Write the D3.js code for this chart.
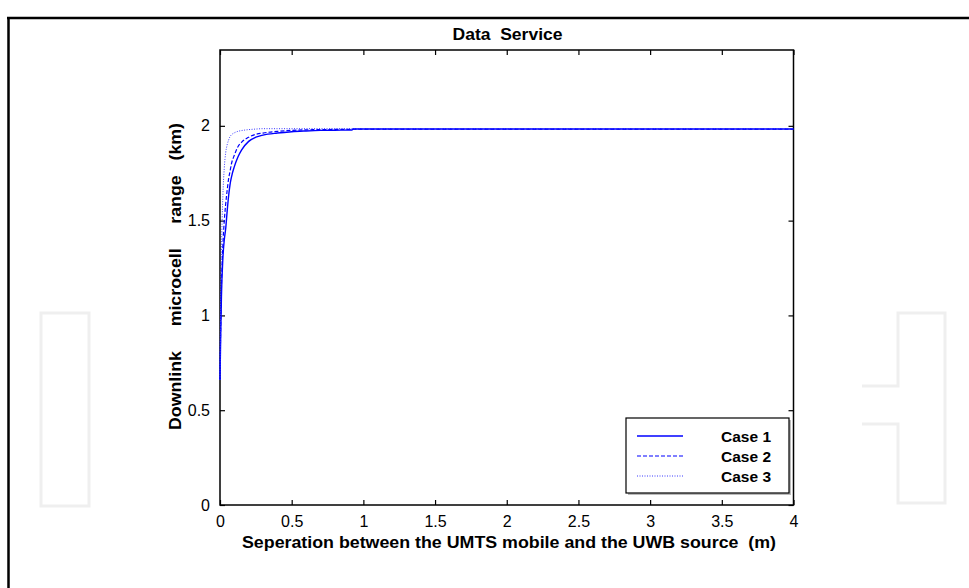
<!DOCTYPE html>
<html lang="en">
<head>
    <meta charset="UTF-8">
    <title>Data Service</title>
    <script src="https://cdn.jsdelivr.net/npm/d3@7"></script>
    <style>
        body { margin:0; background:#fff; }
        text { font-family: "Liberation Sans", Arial, sans-serif; }
    </style>
</head>
<body>
<div id="grafica"></div>
<script>
// data
sep = [0, 0.005, 0.01, 0.02, 0.03, 0.04, 0.05, 0.06, 0.07, 0.08, 0.1, 0.125, 0.15, 0.2, 0.25, 0.3, 0.4, 0.5, 0.6, 0.7, 0.8, 0.92, 0.93, 1, 2, 3, 4]
case1 = [0.66, 0.9, 1.1, 1.3, 1.4, 1.46, 1.55, 1.63, 1.69, 1.73, 1.785, 1.836, 1.872, 1.918, 1.94, 1.951, 1.962, 1.969, 1.973, 1.976, 1.977, 1.978, 1.983, 1.983, 1.983, 1.983, 1.983]
case2 = [0.66, 0.95, 1.15, 1.37, 1.5, 1.59, 1.66, 1.72, 1.76, 1.8, 1.845, 1.89, 1.913, 1.94, 1.955, 1.962, 1.971, 1.976, 1.979, 1.98, 1.981, 1.982, 1.983, 1.983, 1.983, 1.983, 1.983]
case3 = [0.66, 1.15, 1.35, 1.63, 1.78, 1.86, 1.9, 1.925, 1.943, 1.953, 1.963, 1.971, 1.975, 1.98, 1.983, 1.985, 1.985, 1.985, 1.985, 1.985, 1.985, 1.985, 1.985, 1.985, 1.985, 1.985, 1.985]
seriesNames = ['Case 1', 'Case 2', 'Case 3']
xTicks = [0, 0.5, 1, 1.5, 2, 2.5, 3, 3.5, 4]
yTicks = [0, 0.5, 1, 1.5, 2]

ancho_total = 969
alto_total = 588
margin = {top:50, right:175.5, bottom:83, left:220}
ancho = ancho_total - margin.left - margin.right
alto = alto_total - margin.top - margin.bottom

svg = d3.select('#grafica')
        .append('svg')
        .attr('width', ancho_total)
        .attr('height', alto_total)

// page frame + faint background shapes
svg.append('path')
    .attr('d', 'M7,18H969M8.5,18V588')
    .attr('fill', 'none')
    .attr('stroke', '#000')
    .attr('stroke-width', 2.5)
svg.append('rect')
    .attr('x', 41).attr('y', 313).attr('width', 48).attr('height', 193)
    .attr('fill', 'none').attr('stroke', '#efefef').attr('stroke-width', 3)
svg.append('path')
    .attr('d', 'M862,386H898V313H945V503H898V424H862')
    .attr('fill', 'none').attr('stroke', '#efefef').attr('stroke-width', 3)

g = svg.append('g')
        .attr('transform', 'translate(' + margin.left + ',' + margin.top + ')')

x = d3.scaleLinear().domain([0, 4]).range([0, ancho])
y = d3.scaleLinear().domain([0, 2.4]).range([alto, 0])

// axes: ticks inward on all four sides
g.append('g')
    .attr('transform', 'translate(0,' + alto + ')')
    .call(d3.axisBottom(x).tickValues(xTicks).tickFormat(d3.format('')).tickSizeInner(-5).tickSizeOuter(0).tickPadding(11))
g.append('g')
    .call(d3.axisTop(x).tickValues(xTicks).tickFormat('').tickSizeInner(-5).tickSizeOuter(0))
g.append('g')
    .call(d3.axisLeft(y).tickValues(yTicks).tickFormat(d3.format('')).tickSizeInner(-5).tickSizeOuter(0).tickPadding(10))
g.append('g')
    .attr('transform', 'translate(' + ancho + ',0)')
    .call(d3.axisRight(y).tickValues(yTicks).tickFormat('').tickSizeInner(-5).tickSizeOuter(0))

g.selectAll('.domain').remove()
g.selectAll('.tick line').attr('stroke', '#000').attr('stroke-width', 1.2)
g.selectAll('.tick text').attr('font-size', 16).attr('fill', '#000')
    .style('font-family', '"Liberation Sans", Arial, sans-serif')

g.append('rect')
    .attr('width', ancho).attr('height', alto)
    .attr('fill', 'none').attr('stroke', '#000').attr('stroke-width', 1.5)

// curves
series = [case1, case2, case3]
dash = [null, '4,2', '1,1.5']
widths = [1.4, 1.2, 1]
colors = ['#0000ff', '#0000ff', '#3a3aff']

linea = d3.line()
    .x((d, i) => x(sep[i]))
    .y(d => y(d))
    .curve(d3.curveMonotoneX)

series.forEach((s, k) => {
    g.append('path')
        .attr('d', linea(s))
        .attr('fill', 'none')
        .attr('stroke', colors[k])
        .attr('stroke-width', widths[k])
        .attr('stroke-dasharray', dash[k])
})

// titles
svg.append('text')
    .attr('x', 507.5).attr('y', 40)
    .attr('text-anchor', 'middle')
    .attr('font-size', 16).attr('font-weight', 'bold')
    .attr('textLength', 110).attr('lengthAdjust', 'spacingAndGlyphs')
    .style('white-space', 'pre')
    .text('Data  Service')

svg.append('text')
    .attr('x', 509).attr('y', 548)
    .attr('text-anchor', 'middle')
    .attr('font-size', 16.5).attr('font-weight', 'bold')
    .attr('textLength', 534).attr('lengthAdjust', 'spacingAndGlyphs')
    .style('white-space', 'pre')
    .text('Seperation between the UMTS mobile and the UWB source  (m)')

svg.append('text')
    .attr('transform', 'translate(181,276.5) rotate(-90)')
    .attr('text-anchor', 'middle')
    .attr('font-size', 16.5).attr('font-weight', 'bold')
    .attr('textLength', 307).attr('lengthAdjust', 'spacingAndGlyphs')
    .style('white-space', 'pre')
    .text('Downlink     microcell     range   (km)')

// legend
leg = svg.append('g')
leg.append('rect')
    .attr('x', 628).attr('y', 420).attr('width', 163).attr('height', 75)
    .attr('fill', '#bbb')
leg.append('rect')
    .attr('x', 626).attr('y', 418).attr('width', 163).attr('height', 75)
    .attr('fill', '#fff').attr('stroke', '#000').attr('stroke-width', 1.2)

rowY = d3.scalePoint().domain(seriesNames).range([436, 476])

seriesNames.forEach((n, k) => {
    leg.append('line')
        .attr('x1', 637).attr('x2', 683)
        .attr('y1', rowY(n)).attr('y2', rowY(n))
        .attr('stroke', colors[k])
        .attr('stroke-width', widths[k])
        .attr('stroke-dasharray', dash[k])
    leg.append('text')
        .attr('x', 771).attr('y', rowY(n) + 6)
        .attr('text-anchor', 'end')
        .attr('font-size', 15.5).attr('font-weight', 'bold')
        .text(n)
})
</script>
</body>
</html>
